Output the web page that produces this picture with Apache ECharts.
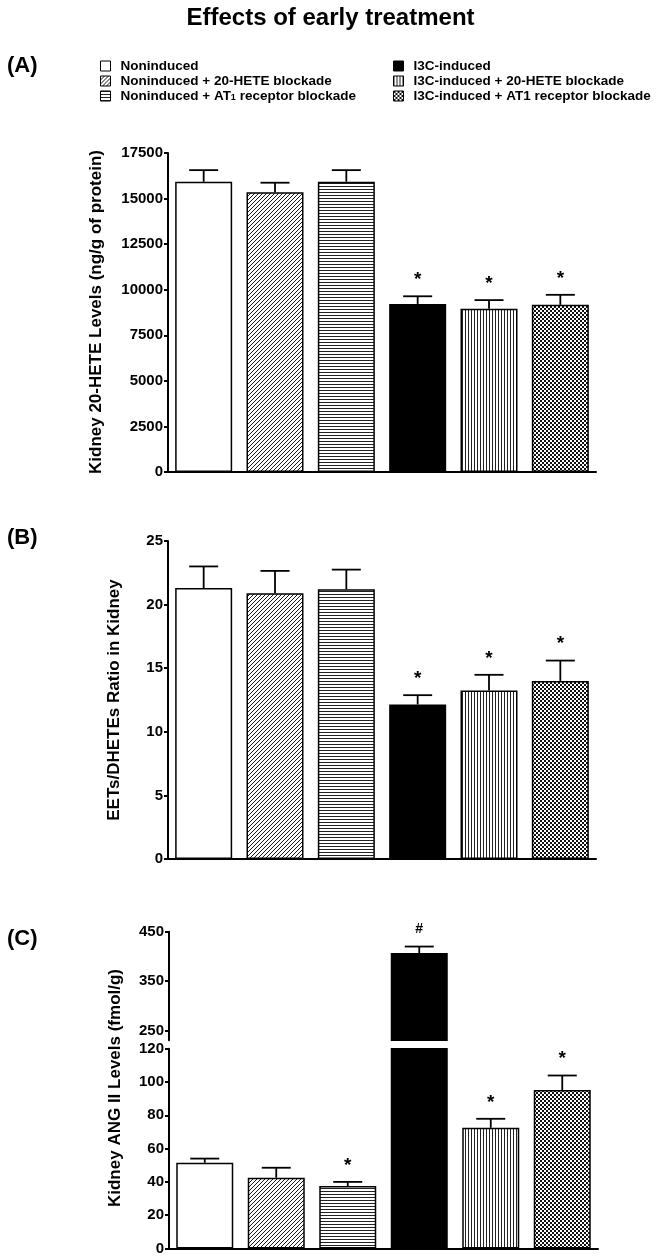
<!DOCTYPE html>
<html><head><meta charset="utf-8">
<script src="https://cdn.jsdelivr.net/npm/echarts@6/dist/echarts.min.js"></script>
<style>html,body{margin:0;padding:0;background:#fff}#c{width:661px;height:1256px}</style>
</head><body><div id="c"></div>
<script>
// ---------- data ----------
const groups = ['Noninduced', 'Noninduced + 20-HETE blockade', 'Noninduced + AT1 receptor blockade',
  'I3C-induced', 'I3C-induced + 20-HETE blockade', 'I3C-induced + AT1 receptor blockade'];
const heteMean = [15920, 15350, 15920, 9220, 8950, 9170];
const heteErr = [640, 520, 640, 420, 480, 550];
const heteMarks = ['', '', '', '*', '*', '*'];
const ratioMean = [21.3, 20.9, 21.2, 12.15, 13.25, 14.0];
const ratioErr = [1.7, 1.75, 1.55, 0.73, 1.23, 1.6];
const ratioMarks = ['', '', '', '*', '*', '*'];
const angMean = [51.5, 42.5, 37.5, 407, 72.5, 95.2];
const angErr = [2.5, 6.0, 2.5, 13, 5.4, 8.7];
const angMarks = ['', '', '*', '#', '*', '*'];
const heteAxis = {min: 0, max: 17500, interval: 2500};
const ratioAxis = {min: 0, max: 25, interval: 5};
const angLowAxis = {min: 0, max: 120, interval: 20};
const angHighTicks = [250, 350, 450];
const angBreak = 120;
const titleText = 'Effects of early treatment';
const yNames = ['Kidney 20-HETE Levels (ng/g of protein)', 'EETs/DHETEs Ratio in Kidney', 'Kidney ANG II Levels (fmol/g)'];

// ---------- fills ----------
function tile(w, h, draw) {
  const c = document.createElement('canvas'); c.width = w; c.height = h;
  const g = c.getContext('2d'); g.fillStyle = '#fff'; g.fillRect(0, 0, w, h); draw(g);
  return {image: c, repeat: 'repeat'};
}
const fills = [
  '#ffffff',
  tile(4, 4, g => { g.strokeStyle = '#000'; g.lineWidth = 0.9; g.beginPath();
    g.moveTo(-1, 5); g.lineTo(5, -1); g.moveTo(-1, 1); g.lineTo(1, -1); g.moveTo(3, 5); g.lineTo(5, 3); g.stroke(); }),
  tile(1, 3, g => { g.fillStyle = '#222'; g.fillRect(0, 0, 1, 1); }),
  '#000000',
  tile(3, 1, g => { g.fillStyle = '#222'; g.fillRect(0, 0, 1, 1); }),
  tile(4, 4, g => { g.fillStyle = '#111'; g.fillRect(0, 0, 2, 2); g.fillRect(2, 2, 2, 2); })
];

const FONT = '"Liberation Sans", Arial, sans-serif';
const chart = echarts.init(document.getElementById('c'), null, {renderer: 'canvas'});

const grids = [
  {left: 168, top: 153, width: 428, height: 319},
  {left: 168, top: 541, width: 428, height: 318},
  {left: 169, top: 1048.7, width: 429, height: 201.3},
  {left: 169, top: 931.7, width: 429, height: 108.6}
];
const axisLine = {show: true, lineStyle: {color: '#000', width: 2}};
const xAxes = grids.map((g, i) => ({
  type: 'category', gridIndex: i, data: groups,
  axisLine: i === 3 ? {show: false} : axisLine,
  axisTick: {show: false}, axisLabel: {show: false}
}));
const lbl = {color: '#000', fontWeight: 'bold', fontSize: 15, fontFamily: FONT, margin: 5, formatter: v => String(v)};
const tick = {show: true, length: 4, lineStyle: {color: '#000', width: 2}};
const yAxes = [
  Object.assign({type: 'value', gridIndex: 0, axisLine, axisTick: tick, axisLabel: lbl, splitLine: {show: false}}, heteAxis),
  Object.assign({type: 'value', gridIndex: 1, axisLine, axisTick: tick, axisLabel: lbl, splitLine: {show: false}}, ratioAxis),
  Object.assign({type: 'value', gridIndex: 2, axisLine, axisTick: tick, axisLabel: lbl, splitLine: {show: false}}, angLowAxis),
  {type: 'value', gridIndex: 3, min: 230.6, max: 450, axisLine,
    axisTick: Object.assign({customValues: angHighTicks}, tick),
    axisLabel: Object.assign({customValues: angHighTicks}, lbl), splitLine: {show: false}}
];

const series = [];
function addBars(mean, gi, filter) {
  groups.forEach((name, i) => {
    series.push({
      name, type: 'bar', xAxisIndex: gi, yAxisIndex: gi, barWidth: 57, barGap: '-100%',
      data: mean.map((v, j) => (j === i && filter(v)) ? v : '-'),
      itemStyle: {color: fills[i], borderColor: '#000', borderWidth: 1.5},
      emphasis: {disabled: true}, animation: false, clip: true
    });
  });
}
function addErr(mean, err, marks, gi, filter) {
  const data = [];
  mean.forEach((v, i) => { if (filter(v)) data.push([i, v, err[i], i]); });
  series.push({
    type: 'custom', xAxisIndex: gi, yAxisIndex: gi, data, animation: false, silent: true, z: 5,
    renderItem(params, api) {
      const i = api.value(0), v = api.value(1), e = api.value(2);
      const b = api.coord([i, v]), t = api.coord([i, v + e]);
      const m = marks[api.value(3)];
      const children = [
        {type: 'line', shape: {x1: b[0], y1: b[1], x2: t[0], y2: t[1]}, style: {stroke: '#000', lineWidth: 1.8}},
        {type: 'line', shape: {x1: t[0] - 14.5, y1: t[1], x2: t[0] + 14.5, y2: t[1]}, style: {stroke: '#000', lineWidth: 1.8}}
      ];
      if (m) {
        const star = m === '*';
        children.push({type: 'text', x: t[0], y: t[1] - (star ? 16.5 : 17),
          style: {text: m, fill: '#000', font: 'bold ' + (star ? 19 : 14) + 'px ' + FONT, textAlign: 'center', textVerticalAlign: 'middle'}});
      }
      return {type: 'group', children};
    }
  });
}
const all = () => true;
addBars(heteMean, 0, all); addErr(heteMean, heteErr, heteMarks, 0, all);
addBars(ratioMean, 1, all); addErr(ratioMean, ratioErr, ratioMarks, 1, all);
addBars(angMean, 2, all); addErr(angMean, angErr, angMarks, 2, v => v <= angBreak);
addBars(angMean, 3, v => v > angBreak); addErr(angMean, angErr, angMarks, 3, v => v > angBreak);

const legendText = {color: '#000', fontWeight: 'bold', fontSize: 13.5, fontFamily: FONT, lineHeight: 12, padding: [0, 0, 0, 5],
  rich: {sub: {fontSize: 9, fontWeight: 'bold', fontFamily: FONT, verticalAlign: 'bottom', lineHeight: 5}}};
const legendBase = {orient: 'vertical', top: 59, padding: 0, itemWidth: 10, itemHeight: 10, itemGap: 1, icon: 'rect',
  itemStyle: {borderColor: '#000', borderWidth: 1}, textStyle: legendText, selectedMode: false,
  formatter: n => n === groups[2] ? 'Noninduced + AT{sub|1} receptor blockade' : n};

const yLabel = (text, x, y) => ({type: 'text', x, y, rotation: Math.PI / 2,
  style: {text, fill: '#000', font: 'bold 17px ' + FONT, textAlign: 'center', textVerticalAlign: 'middle'}});

chart.setOption({
  backgroundColor: '#fff',
  animation: false,
  title: [
    {text: titleText, left: 'center', top: 1, textStyle: {fontSize: 24, fontWeight: 'bold', color: '#000', fontFamily: FONT}},
    {text: '(A)', left: 2, top: 50, textStyle: {fontSize: 22, fontWeight: 'bold', color: '#000', fontFamily: FONT}},
    {text: '(B)', left: 2, top: 522, textStyle: {fontSize: 22, fontWeight: 'bold', color: '#000', fontFamily: FONT}},
    {text: '(C)', left: 2, top: 923, textStyle: {fontSize: 22, fontWeight: 'bold', color: '#000', fontFamily: FONT}}
  ],
  legend: [
    Object.assign({left: 100, data: groups.slice(0, 3)}, legendBase),
    Object.assign({left: 393, data: groups.slice(3)}, legendBase)
  ],
  grid: grids,
  xAxis: xAxes,
  yAxis: yAxes,
  series,
  graphic: [
    yLabel(yNames[0], 96, 312),
    yLabel(yNames[1], 114, 700),
    yLabel(yNames[2], 115, 1088)
  ]
});
</script></body></html>
